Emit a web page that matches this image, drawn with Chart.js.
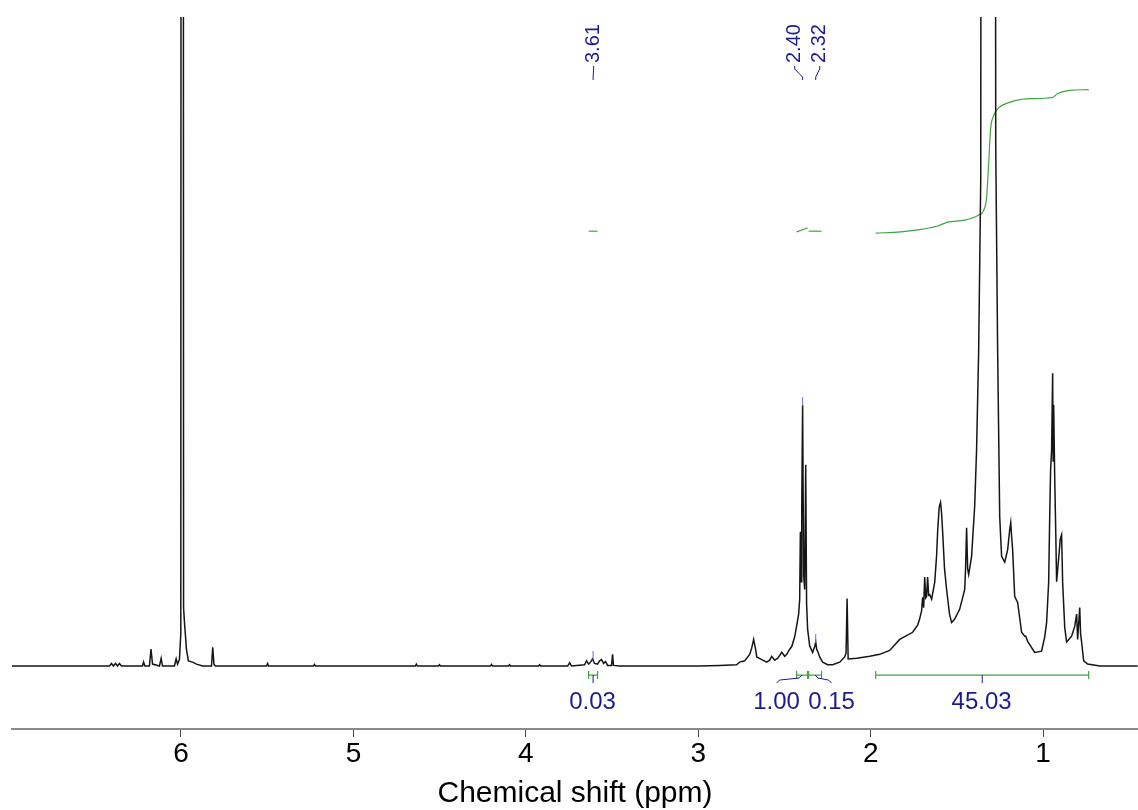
<!DOCTYPE html>
<html>
<head>
<meta charset="utf-8">
<script src="https://cdn.jsdelivr.net/npm/chart.js@4.4.0/dist/chart.umd.min.js"></script>
<style>
  html, body { margin: 0; padding: 0; background: #fff; }
  #wrap { width: 1138px; height: 810px; }
</style>
</head>
<body>
<div id="wrap"><canvas id="nmr" width="1138" height="810"></canvas></div>
<script>
// spectrum: chemical shift (ppm) and intensity (arb. units, baseline = 0)
const specPpm = [
  6.98, 6.415, 6.403, 6.392, 6.380, 6.368, 6.357, 6.345, 6.223, 6.217, 6.209, 6.183, 6.174, 6.165,
  6.125, 6.115, 6.107, 6.038, 6.028, 6.020, 6.009, 6.001, 5.997, 5.989, 5.985, 5.980, 5.968, 5.957,
  5.933, 5.910, 5.875, 5.823, 5.816, 5.809, 5.800, 5.504, 5.498, 5.492, 5.232, 5.226, 5.220,
  4.641, 4.635, 4.629, 4.507, 4.501, 4.495, 4.205, 4.199, 4.193, 4.101, 4.095, 4.089, 3.926, 3.920, 3.914,
  3.758, 3.746, 3.735, 3.660, 3.648, 3.636, 3.625, 3.613, 3.602, 3.584, 3.572, 3.561, 3.549, 3.538,
  3.526, 3.503, 3.497, 3.492, 3.457, 2.992, 2.876, 2.778, 2.760, 2.731, 2.702, 2.690, 2.679, 2.667,
  2.661, 2.632, 2.603, 2.586, 2.574, 2.557, 2.539, 2.516, 2.499, 2.487, 2.470, 2.458, 2.441, 2.430,
  2.418, 2.412, 2.408, 2.404, 2.400, 2.395, 2.389, 2.383, 2.377, 2.372, 2.366, 2.354, 2.337, 2.325,
  2.319, 2.313, 2.308, 2.296, 2.279, 2.250, 2.221, 2.180, 2.151, 2.143, 2.137, 2.131, 2.081, 2.006,
  1.948, 1.890, 1.832, 1.757, 1.728, 1.717, 1.705, 1.699, 1.693, 1.687, 1.681, 1.676, 1.670, 1.664,
  1.658, 1.647, 1.629, 1.618, 1.612, 1.603, 1.595, 1.589, 1.583, 1.572, 1.560, 1.543, 1.531, 1.514,
  1.485, 1.467, 1.455, 1.450, 1.444, 1.438, 1.432, 1.415, 1.397, 1.386, 1.374, 1.362, 1.351, 1.287,
  1.275, 1.264, 1.252, 1.241, 1.223, 1.206, 1.194, 1.188, 1.183, 1.177, 1.165, 1.148, 1.125, 1.107,
  1.101, 1.090, 1.049, 1.009, 0.991, 0.980, 0.968, 0.962, 0.957, 0.951, 0.945, 0.942, 0.939, 0.933,
  0.927, 0.922, 0.910, 0.901, 0.893, 0.887, 0.875, 0.864, 0.835, 0.817, 0.806, 0.800, 0.788, 0.783,
  0.777, 0.765, 0.742, 0.672, 0.452
];
const specInt = [
  0, 0, 0.4, 0, 0.4, 0, 0.4, 0, 0, 0.6, 0, 0, 2.6, 0.3,
  0, 1.2, 0, 0, 1.1, 0.3, 1.0, 5, 400, 400, 9, 6.8, 2.5, 0.8,
  0.6, 0.3, 0, 0, 2.9, 0.3, 0, 0, 0.4, 0, 0, 0.25, 0,
  0, 0.3, 0, 0, 0.2, 0, 0, 0.25, 0, 0, 0.2, 0, 0, 0.2, 0,
  0, 0.5, 0, 0.2, 0.8, 0.3, 0.6, 1.1, 0.4, 0.3, 0.8, 1.0, 0.4, 0.7,
  0.1, 0.1, 1.8, 0.1, 0, 0, 0.1, 0.2, 0.6, 0.8, 1.8, 2.8, 4.1, 2.5,
  1.4, 1.0, 0.6, 0.9, 1.5, 0.9, 1.2, 2.1, 1.5, 1.8, 2.6, 3.0, 4.5, 6.1,
  8.0, 10.3, 20.7, 13, 25, 40.2, 14, 11.8, 31.0, 9.7, 5.7, 3.1, 2.1, 3.0,
  3.7, 2.5, 2.3, 1.4, 0.6, 0.2, 0.2, 0.6, 1.4, 2.0, 10.4, 1.1, 1.2, 1.5,
  1.8, 2.4, 4.1, 5.2, 6.3, 7.2, 8.5, 10.6, 9.0, 13.7, 10.5, 10.7, 13.7, 10.9,
  11.0, 10.3, 12.9, 17, 20.7, 24.5, 25.2, 23.5, 20.7, 15, 11.8, 8.0, 6.7, 7.2,
  8.7, 10.5, 11.8, 15, 21.3, 15, 14.1, 16.9, 24.7, 33.4, 48.6, 75, 400, 400,
  80, 48.6, 23.0, 16.9, 16.0, 17.9, 21, 22.1, 20, 17.9, 10.7, 9.8, 5.2, 4.6,
  4.6, 3.8, 2.1, 2.3, 4.5, 6.7, 13, 23.0, 30, 33.3, 45.1, 31.6, 40.2, 29,
  20.7, 13.0, 16.6, 19.5, 20.2, 12.9, 6, 3.7, 4.6, 6.1, 8.0, 4.1, 9.0, 5,
  3.7, 0.8, 0.3, 0, 0
];

// integral curves (same intensity axis)
const integ1Ppm = [3.636, 3.584];
const integ1Val = [67.0, 67.0];
const integ2Ppm = [2.430, 2.366];
const integ2Val = [66.9, 67.5];
const integ3Ppm = [2.360, 2.285];
const integ3Val = [67.0, 67.0];
const integ4Ppm = [1.971, 1.826, 1.728, 1.612, 1.554, 1.455, 1.374, 1.345, 1.328, 1.316, 1.305,
  1.287, 1.258, 1.200, 1.101, 0.945, 0.916, 0.846, 0.736];
const integ4Val = [66.7, 66.9, 67.2, 67.8, 68.4, 68.7, 69.5, 70.2, 72.2, 77.5, 82.7,
  84.8, 86.0, 86.8, 87.4, 87.6, 88.2, 88.7, 88.8];

// integration regions and their values
const integStart = [3.636, 2.430, 2.360, 1.971];
const integEnd = [3.584, 2.366, 2.285, 0.736];
const integLabels = ['0.03', '1.00', '0.15', '45.03'];
const integLabelPpm = [3.613, 2.546, 2.227, 1.357];

// picked peaks
const peakPpm = [3.61, 2.395, 2.319];
const peakTop = [1.1, 40.2, 3.7];
const peakLabels = ['3.61', '2.40', '2.32'];
const peakLabelPpm = [3.607, 2.441, 2.296];

const tickValues = [1, 2, 3, 4, 5, 6];
const xMin = 0.45, xMax = 6.98;

const FONT = "'Liberation Sans', Arial, sans-serif";
const BLUE = '#1c1c8e';
const GREEN = '#3fa33f';

const toXY = (xs, ys) => xs.map((x, i) => ({ x: x, y: ys[i] }));

const annotations = {
  id: 'annotations',
  afterDatasetsDraw(chart) {
    const { ctx, chartArea } = chart;
    const xs = chart.scales.x, ys = chart.scales.y;
    const base = ys.getPixelForValue(0);
    ctx.save();

    // peak labels at the top, rotated
    ctx.font = '20px ' + FONT;
    ctx.fillStyle = BLUE;
    ctx.strokeStyle = BLUE;
    ctx.lineWidth = 1;
    const textEnd = chartArea.top + 46;
    peakLabels.forEach((lab, i) => {
      const lx = xs.getPixelForValue(peakLabelPpm[i]);
      const px = xs.getPixelForValue(peakPpm[i]);
      ctx.save();
      ctx.translate(lx, textEnd);
      ctx.rotate(-Math.PI / 2);
      ctx.textAlign = 'left';
      ctx.textBaseline = 'middle';
      ctx.fillText('' + lab, 0, 0);
      ctx.restore();
      ctx.beginPath();
      ctx.moveTo(lx, textEnd + 3);
      ctx.lineTo(lx, textEnd + 6);
      ctx.lineTo(px, textEnd + 14);
      ctx.lineTo(px, textEnd + 17);
      ctx.stroke();
      // peak marker
      const py = ys.getPixelForValue(peakTop[i]);
      ctx.strokeStyle = '#6b6bd0';
      ctx.beginPath();
      ctx.moveTo(px, py - 8);
      ctx.lineTo(px, py + 1);
      ctx.stroke();
      ctx.strokeStyle = BLUE;
    });

    // integration brackets and values
    const by = base + 9;
    integLabels.forEach((lab, i) => {
      const x0 = xs.getPixelForValue(integStart[i]);
      const x1 = xs.getPixelForValue(integEnd[i]);
      const cx = (x0 + x1) / 2;
      const lx = xs.getPixelForValue(integLabelPpm[i]);
      ctx.strokeStyle = GREEN;
      ctx.lineWidth = 1.2;
      ctx.beginPath();
      ctx.moveTo(x0, by); ctx.lineTo(x1, by);
      ctx.moveTo(x0, by - 4); ctx.lineTo(x0, by + 4);
      ctx.moveTo(x1, by - 4); ctx.lineTo(x1, by + 4);
      ctx.stroke();

      ctx.strokeStyle = BLUE;
      ctx.lineWidth = 1;
      ctx.beginPath();
      if (Math.abs(cx - lx) < 3) {
        ctx.moveTo(cx, by);
        ctx.lineTo(cx, by + 8);
      } else {
        const s = Math.sign(cx - lx);
        ctx.moveTo(cx, by);
        ctx.lineTo(cx - s * 3, by + 3);
        ctx.lineTo(lx + s * 3, by + 5);
        ctx.lineTo(lx, by + 8);
      }
      ctx.stroke();

      ctx.font = '24px ' + FONT;
      ctx.fillStyle = BLUE;
      ctx.textAlign = 'center';
      ctx.textBaseline = 'middle';
      ctx.fillText(lab, lx, by + 27);
    });
    ctx.restore();
  }
};

const integDs = (xs, vs) => ({
  data: toXY(xs, vs),
  borderColor: GREEN,
  borderWidth: 1.2,
  pointRadius: 0,
  cubicInterpolationMode: 'monotone',
  fill: false
});

new Chart(document.getElementById('nmr'), {
  type: 'line',
  data: {
    datasets: [
      {
        data: toXY(specPpm, specInt),
        borderColor: '#151515',
        borderWidth: 1.5,
        pointRadius: 0,
        tension: 0,
        fill: false
      },
      integDs(integ1Ppm, integ1Val),
      integDs(integ2Ppm, integ2Val),
      integDs(integ3Ppm, integ3Val),
      integDs(integ4Ppm, integ4Val)
    ]
  },
  options: {
    responsive: false,
    animation: false,
    devicePixelRatio: 1,
    layout: { padding: { left: 12, right: 0, top: 17, bottom: 0 } },
    plugins: { legend: { display: false }, tooltip: { enabled: false } },
    scales: {
      x: {
        type: 'linear',
        reverse: true,
        min: xMin,
        max: xMax,
        afterBuildTicks: (s) => { s.ticks = tickValues.map(v => ({ value: v })); },
        grid: { display: true, drawOnChartArea: false, drawTicks: true, tickLength: 8, color: '#444', lineWidth: 1 },
        border: { display: true, color: '#8a8a8a', width: 2 },
        ticks: {
          color: '#000',
          font: { family: FONT, size: 28, lineHeight: 1.0 },
          padding: 3,
          maxRotation: 0,
          autoSkip: false,
          callback: (v) => String(v)
        },
        title: {
          display: true,
          text: 'Chemical shift (ppm)',
          color: '#000',
          font: { family: FONT, size: 30, lineHeight: 1.1 },
          padding: { top: 6, bottom: 0 }
        }
      },
      y: {
        display: false,
        min: -9.7,
        max: 100
      }
    }
  },
  plugins: [annotations]
});
</script>
</body>
</html>
